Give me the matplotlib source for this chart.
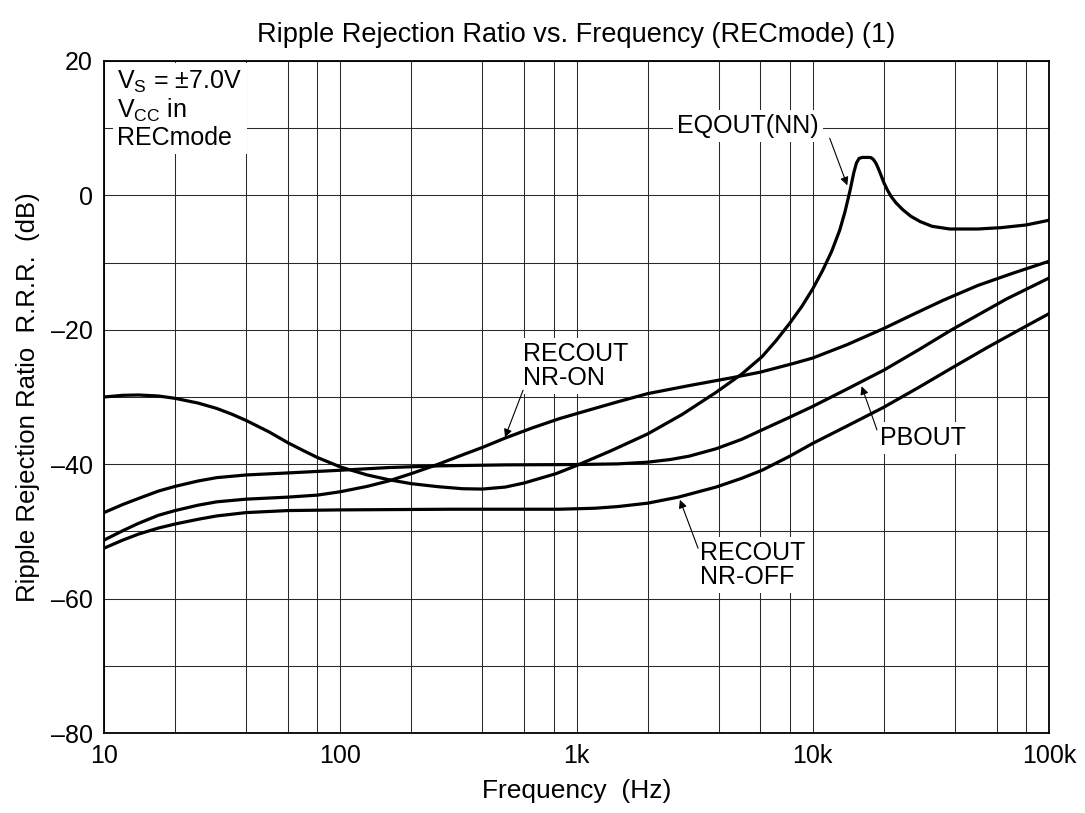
import matplotlib
matplotlib.use("Agg")
import matplotlib.pyplot as plt
from matplotlib.ticker import FixedLocator, NullFormatter

plt.rcParams['font.family'] = ['Liberation Sans', 'DejaVu Sans']
plt.rcParams['axes.unicode_minus'] = False

# curves (Hz, dB)
freq_eqout = [10, 12, 14, 17, 20, 25, 30, 35, 40, 50, 60, 70, 80, 100, 130, 160, 200, 260,
              330, 400, 500, 600, 820, 1000, 1400, 2000, 2800, 3900, 5000, 6100, 7000,
              8000, 9000, 10000, 11000, 12000, 13000, 13700, 14400, 14900, 15300, 15700,
              16200, 17300, 17700, 18100, 18500, 18900, 19400, 20000, 20700, 21500,
              22500, 24000, 26000, 28500, 32000, 38000, 50000, 62600, 80000, 100000]
db_eqout = [-30.0, -29.75, -29.7, -29.85, -30.2, -30.9, -31.7, -32.6, -33.5, -35.2, -36.8,
            -38.0, -39.0, -40.4, -41.6, -42.3, -42.9, -43.35, -43.65, -43.7, -43.4, -42.8,
            -41.4, -40.2, -38.0, -35.5, -32.6, -29.3, -26.6, -24.0, -21.6, -19.0, -16.5,
            -13.9, -11.2, -8.4, -5.2, -2.4, 0.8, 3.3, 4.8, 5.5, 5.65, 5.65, 5.6, 5.3, 4.8,
            4.1, 3.1, 1.9, 0.8, -0.2, -1.1, -2.1, -3.1, -3.9, -4.6, -5.0, -5.0, -4.8, -4.4,
            -3.7]

freq_pbout = [10, 12, 14, 17, 20, 25, 30, 40, 60, 100, 160, 260, 500, 1000, 1500, 2000,
              2500, 3000, 3900, 5000, 6100, 8000, 10000, 14000, 20000, 28000, 38700,
              50000, 66200, 100000]
db_pbout = [-47.2, -46.0, -45.1, -44.0, -43.3, -42.5, -42.0, -41.6, -41.3, -40.9, -40.5,
            -40.25, -40.1, -40.05, -39.95, -39.7, -39.3, -38.8, -37.7, -36.3, -34.9, -33.0,
            -31.4, -28.8, -26.0, -23.0, -20.0, -17.8, -15.4, -12.3]

freq_nr_on = [10, 12, 14, 17, 20, 25, 30, 40, 60, 80, 100, 130, 160, 200, 260, 330, 400,
              500, 650, 850, 1140, 1500, 2000, 3000, 4600, 6000, 8300, 10000, 14000,
              20000, 27000, 35700, 50000, 70000, 100000]
db_nr_on = [-51.3, -49.9, -48.8, -47.6, -46.9, -46.1, -45.6, -45.2, -44.9, -44.6, -44.1,
            -43.3, -42.5, -41.4, -40.0, -38.6, -37.5, -36.1, -34.6, -33.2, -31.9, -30.7,
            -29.5, -28.3, -27.1, -26.3, -25.0, -24.2, -22.2, -19.8, -17.6, -15.6, -13.4,
            -11.6, -9.8]

freq_nr_off = [10, 12, 14, 17, 20, 25, 30, 40, 60, 100, 300, 850, 1200, 1500, 2000, 2700,
               3900, 5000, 6100, 8000, 10000, 14000, 19800, 28000, 38700, 55000, 80500,
               100000]
db_nr_off = [-52.5, -51.3, -50.4, -49.5, -48.9, -48.2, -47.7, -47.2, -46.9, -46.8, -46.7,
             -46.7, -46.55, -46.3, -45.8, -44.9, -43.4, -42.1, -40.9, -38.8, -36.9, -34.3,
             -31.6, -28.6, -25.7, -22.6, -19.4, -17.6]

x_ticks = [10, 100, 1000, 10000, 100000]
x_labels = ['10', '100', '1k', '10k', '100k']
x_minor = [20, 40, 60, 80, 200, 400, 600, 800, 2000, 4000, 6000, 8000,
           20000, 40000, 60000, 80000]
y_ticks = [-80, -60, -40, -20, 0, 20]
y_labels = ['\u201380', '\u201360', '\u201340', '\u201320', '0', '20']
y_minor = [-70, -50, -30, -10, 10]

fs = 18

fig = plt.figure(figsize=(10.85, 8.13), dpi=100)
ax = fig.add_axes([104/1085, 80/813, 945/1085, 672/813])
ax.set_xscale('log')
ax.set_xlim(10, 100000)
ax.set_ylim(-80, 20)

ax.set_xticks(x_ticks)
ax.set_xticklabels(x_labels)
ax.xaxis.set_minor_locator(FixedLocator(x_minor))
ax.xaxis.set_minor_formatter(NullFormatter())
ax.set_yticks(y_ticks)
ax.set_yticklabels(y_labels)
ax.yaxis.set_minor_locator(FixedLocator(y_minor))
ax.tick_params(which='both', length=0, labelsize=fs, pad=8)
ax.grid(which='both', color='#2a2a2a', lw=0.75)
ax.set_axisbelow(True)
for sp in ax.spines.values():
    sp.set_linewidth(1.3)

lw = 2.3
ax.plot(freq_eqout, db_eqout, color='black', lw=lw)
ax.plot(freq_pbout, db_pbout, color='black', lw=lw)
ax.plot(freq_nr_on, db_nr_on, color='black', lw=lw)
ax.plot(freq_nr_off, db_nr_off, color='black', lw=lw)

box = dict(facecolor='white', edgecolor='none', pad=3)
arrow = dict(arrowstyle='-|>', color='black', lw=0.8, mutation_scale=12, shrinkA=0, shrinkB=0)

ax.text(11.4, 18.9, 'V$_\\mathregular{S}$ = \u00b17.0V\nV$_\\mathregular{CC}$ in\nRECmode',
        fontsize=fs, ha='left', va='top', bbox=box, linespacing=1.1, zorder=3)

ax.text(2660, 10.3, 'EQOUT(NN)', fontsize=fs, ha='left', va='center', bbox=box, zorder=3)
ax.annotate('', xy=(14000, 1.5), xytext=(11800, 8.5), arrowprops=arrow, zorder=4)

ax.text(594, -25.4, 'RECOUT\nNR-ON', fontsize=fs, ha='left', va='center', bbox=box,
        linespacing=1.0, zorder=3)
ax.annotate('', xy=(498, -36.0), xytext=(594, -29.0), arrowprops=arrow, zorder=4)

ax.text(19300, -36.1, 'PBOUT', fontsize=fs, ha='left', va='center', bbox=box, zorder=3)
ax.annotate('', xy=(16100, -28.4), xytext=(18700, -34.9), arrowprops=arrow, zorder=4)

ax.text(3330, -55.0, 'RECOUT\nNR-OFF', fontsize=fs, ha='left', va='center', bbox=box,
        linespacing=1.0, zorder=3)
ax.annotate('', xy=(2740, -45.3), xytext=(3270, -52.5), arrowprops=arrow, zorder=4)

ax.set_title('Ripple Rejection Ratio vs. Frequency (RECmode) (1)', fontsize=19.5, pad=14)
ax.set_xlabel('Frequency  (Hz)', fontsize=19, labelpad=8)
ax.set_ylabel('Ripple Rejection Ratio  R.R.R.  (dB)', fontsize=18.5, labelpad=8)

fig.savefig('out.png', dpi=100)
